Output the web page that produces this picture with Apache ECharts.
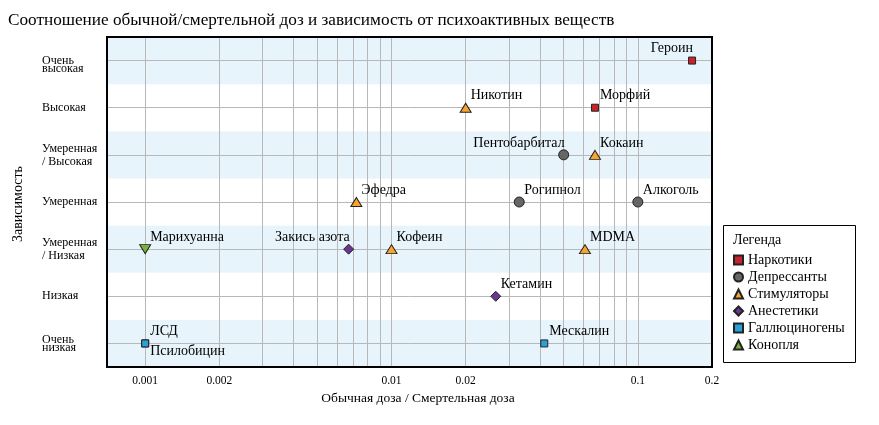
<!DOCTYPE html>
<html>
<head>
<meta charset="utf-8">
<script src="https://cdn.jsdelivr.net/npm/echarts@6/dist/echarts.min.js"></script>
<style>
html, body { margin: 0; padding: 0; background: #fff; }
#main { width: 879px; height: 425px; }
</style>
</head>
<body>
<div id="main"></div>
<script>
// уровни зависимости, снизу вверх
var levels = ['Очень низкая', 'Низкая', 'Умеренная / Низкая', 'Умеренная',
              'Умеренная / Высокая', 'Высокая', 'Очень высокая'];

// подписи и линии сетки оси X
var doseLabels = [0.001, 0.002, 0.01, 0.02, 0.1, 0.2];
var doseGrid = [0.001, 0.002, 0.003, 0.004, 0.005, 0.006, 0.007, 0.008, 0.009,
                0.01, 0.02, 0.03, 0.04, 0.05, 0.06, 0.07, 0.08, 0.09, 0.1, 0.2];

// [название, обычная/смертельная доза, зависимость]
var narcotics = [['Героин', 0.166, 'Очень высокая'], ['Морфий', 0.067, 'Высокая']];
var depressants = [['Пентобарбитал', 0.050, 'Умеренная / Высокая'],
                   ['Рогипнол', 0.033, 'Умеренная'], ['Алкоголь', 0.100, 'Умеренная']];
var stimulants = [['Никотин', 0.020, 'Высокая'], ['Кокаин', 0.067, 'Умеренная / Высокая'],
                  ['Эфедра', 0.0072, 'Умеренная'], ['Кофеин', 0.010, 'Умеренная / Низкая'],
                  ['MDMA', 0.061, 'Умеренная / Низкая']];
var anesthetics = [['Закись азота', 0.0067, 'Умеренная / Низкая'], ['Кетамин', 0.0265, 'Низкая']];
var hallucinogens = [['ЛСД', 0.001, 'Очень низкая'], ['Псилобицин', 0.001, 'Очень низкая'],
                     ['Мескалин', 0.0417, 'Очень низкая']];
var cannabis = [['Марихуанна', 0.001, 'Умеренная / Низкая']];

var leftLabels = ['Героин', 'Пентобарбитал', 'Закись азота'];
var belowLabels = ['Псилобицин'];

var serif = '"Liberation Serif", "DejaVu Serif", serif';

function pointLabel(name) {
    if (leftLabels.indexOf(name) >= 0) return { align: 'right', offset: [1, -12] };
    if (belowLabels.indexOf(name) >= 0) return { align: 'left', offset: [5, 8] };
    return { align: 'left', offset: [5, -12] };
}

function makeSeries(name, rows, symbol, size, color, rotate) {
    return {
        name: name,
        type: 'scatter',
        symbol: symbol,
        symbolSize: size,
        symbolRotate: rotate || 0,
        itemStyle: { color: color, borderColor: '#222', borderWidth: 1, opacity: 1 },
        label: {
            show: true,
            position: 'inside',
            formatter: '{b}',
            color: '#000',
            fontFamily: serif,
            fontSize: 14,
            verticalAlign: 'middle'
        },
        emphasis: { disabled: true },
        z: 3,
        data: rows.map(function (r) {
            return { name: r[0], value: [r[1], r[2]], label: pointLabel(r[0]) };
        })
    };
}

var myChart = echarts.init(document.getElementById('main'));
var option = {
    animation: false,
    title: [{
        text: 'Соотношение обычной/смертельной доз и зависимость от психоактивных веществ',
        left: 3,
        top: 7,
        textStyle: { fontFamily: serif, fontWeight: 'normal', fontSize: 17.2, color: '#000' }
    }, {
        text: 'Легенда',
        left: 728,
        top: 228,
        textStyle: { fontFamily: serif, fontWeight: 'normal', fontSize: 14, color: '#000' }
    }],
    graphic: [{
        type: 'rect',
        left: 723,
        top: 225,
        shape: { width: 132, height: 137 },
        style: { fill: '#fff', stroke: '#000', lineWidth: 1 },
        z: -1
    }],
    legend: {
        orient: 'vertical',
        left: 733,
        top: 253,
        padding: 0,
        itemWidth: 9,
        itemHeight: 9,
        itemGap: 3,
        textStyle: { fontFamily: serif, fontSize: 14, color: '#000', lineHeight: 14 },
        data: ['Наркотики', 'Депрессанты', 'Стимуляторы', 'Анестетики', 'Галлюциногены', 'Конопля']
    },
    grid: {
        left: 107,
        top: 37,
        right: 167,
        bottom: 58,
        outerBoundsMode: 'none',
        containLabel: false,
        show: true,
        borderColor: '#000',
        borderWidth: 2,
        z: 5
    },
    xAxis: {
        type: 'log',
        min: 0.0007,
        max: 0.2,
        name: 'Обычная доза / Смертельная доза',
        nameLocation: 'middle',
        nameGap: 23,
        nameTextStyle: { fontFamily: serif, fontSize: 13.5, color: '#000', padding: [0, 0, 0, 17] },
        axisLine: { show: false },
        axisTick: { show: false, customValues: doseGrid },
        axisLabel: {
            customValues: doseLabels,
            margin: 8,
            fontFamily: serif,
            fontSize: 11.5,
            color: '#000',
            formatter: function (v) { return String(+(+v).toPrecision(3)); }
        },
        splitLine: { show: true, lineStyle: { color: '#b8b8b8', width: 1 } }
    },
    yAxis: {
        type: 'category',
        data: levels,
        name: 'Зависимость',
        nameLocation: 'middle',
        nameGap: 82,
        nameTextStyle: { fontFamily: serif, fontSize: 14, color: '#000', padding: [0, 4, 0, 0] },
        axisLine: { show: false },
        axisTick: { show: false },
        axisLabel: {
            align: 'left',
            margin: 65,
            fontFamily: serif,
            fontSize: 12,
            lineHeight: 13,
            color: '#000',
            formatter: function (v) {
                if (v === 'Очень высокая') return '{t| }\n{t|Очень}\n{t|высокая}';
                if (v.indexOf('Очень') === 0) return '{t|' + v.replace(' ', '\n') + '}';
                if (v.indexOf(' / ') > 0) return v.replace(' / ', '\n/ ');
                return v;
            },
            rich: { t: { fontFamily: serif, fontSize: 12, lineHeight: 8, color: '#000' } }
        },
        splitLine: { show: true, alignWithLabel: true, lineStyle: { color: '#b8b8b8', width: 1 } },
        splitArea: { show: true, areaStyle: { color: ['#e8f4fb', '#ffffff'] } }
    },
    series: [
        makeSeries('Наркотики', narcotics, 'rect', 7, '#c8232c'),
        makeSeries('Депрессанты', depressants, 'circle', 10, '#666666'),
        makeSeries('Стимуляторы', stimulants, 'triangle', [11, 9], '#f7a531'),
        makeSeries('Анестетики', anesthetics, 'diamond', 10, '#6a3593'),
        makeSeries('Галлюциногены', hallucinogens, 'rect', 7, '#2a9fd8'),
        makeSeries('Конопля', cannabis, 'triangle', [11, 9], '#7cb23a', 180)
    ]
};
myChart.setOption(option);
</script>
</body>
</html>
